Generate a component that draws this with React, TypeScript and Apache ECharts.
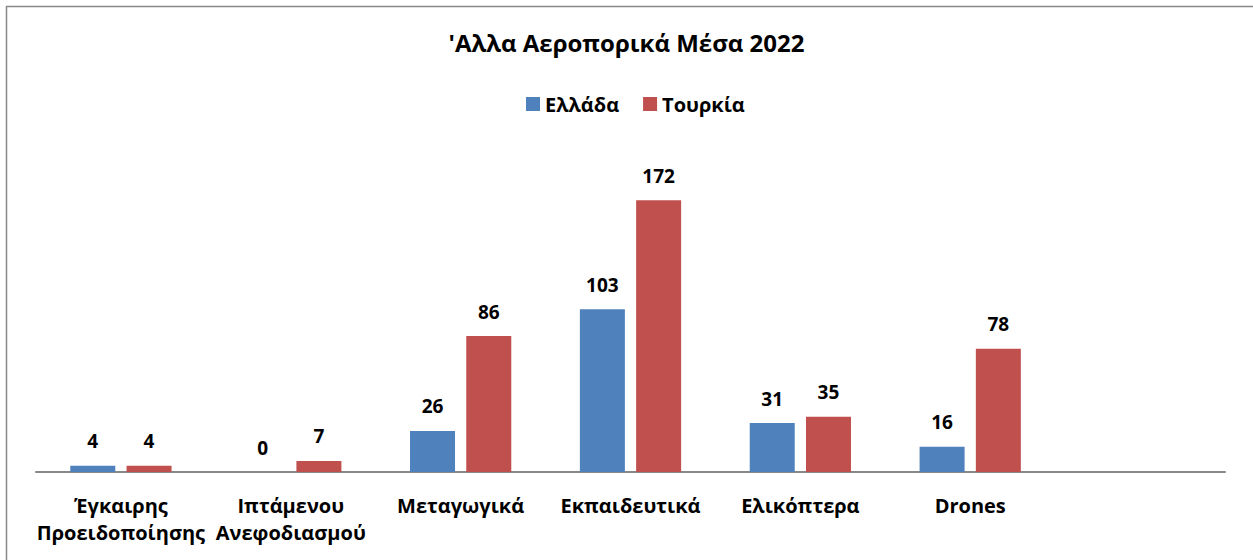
import React, { useEffect, useRef } from "react";
import * as echarts from "echarts";

const categories = [
  "Έγκαιρης\nΠροειδοποίησης",
  "Ιπτάμενου\nΑνεφοδιασμού",
  "Μεταγωγικά",
  "Εκπαιδευτικά",
  "Ελικόπτερα",
  "Drones",
  "",
];
const greece = [4, 0, 26, 103, 31, 16, null];
const turkey = [4, 7, 86, 172, 35, 78, null];
const title = "'Αλλα Αεροπορικά Μέσα 2022";
const seriesNames = ["Ελλάδα", "Τουρκία"];

const FONT = "'Open Sans', 'Noto Sans', sans-serif";

export default function App() {
  const ref = useRef<HTMLDivElement>(null);
  useEffect(() => {
    if (!ref.current) return;
    const chart = echarts.init(ref.current, null, { renderer: "svg" });
    const label = {
      show: true,
      position: "top" as const,
      distance: 15,
      fontFamily: FONT,
      fontWeight: "bold" as const,
      fontSize: 19,
      color: "#000",
    };
    chart.setOption({
      animation: false,
      backgroundColor: "#fff",
      title: {
        text: title,
        left: "center",
        top: 25,
        textStyle: { fontFamily: FONT, fontWeight: "bold", fontSize: 24, color: "#000" },
      },
      legend: {
        top: 89,
        left: 521,
        itemWidth: 14,
        itemHeight: 14,
        itemGap: 24,
        icon: "rect",
        textStyle: { fontFamily: FONT, fontWeight: "bold", fontSize: 20, color: "#000" },
      },
      graphic: [
        {
          type: "rect",
          shape: { x: 6.5, y: 6.5, width: 1300, height: 700 },
          style: { fill: "none", stroke: "#888", lineWidth: 1.5 },
          silent: true,
        },
      ],
      grid: { left: 36, right: 28, top: 156, bottom: 88, containLabel: false },
      xAxis: {
        type: "category",
        data: categories,
        axisLine: { show: true, lineStyle: { color: "#888", width: 2 } },
        axisTick: { show: false },
        axisLabel: {
          interval: 0,
          margin: 20,
          fontFamily: FONT,
          fontWeight: "bold",
          fontSize: 20,
          lineHeight: 27,
          color: "#000",
        },
      },
      yAxis: {
        type: "value",
        min: 0,
        max: 200,
        show: false,
        splitLine: { show: false },
      },
      series: [
        {
          name: seriesNames[0],
          type: "bar",
          data: greece,
          barWidth: 45,
          barGap: "25%",
          itemStyle: { color: "#4F81BD" },
          label,
        },
        {
          name: seriesNames[1],
          type: "bar",
          data: turkey,
          barWidth: 45,
          barGap: "25%",
          itemStyle: { color: "#C0504D" },
          label,
        },
      ],
    });
    return () => chart.dispose();
  }, []);
  return (
    <div
      ref={ref}
      style={{ position: "fixed", left: 0, top: 0, width: 1253, height: 560, background: "#fff" }}
    />
  );
}
